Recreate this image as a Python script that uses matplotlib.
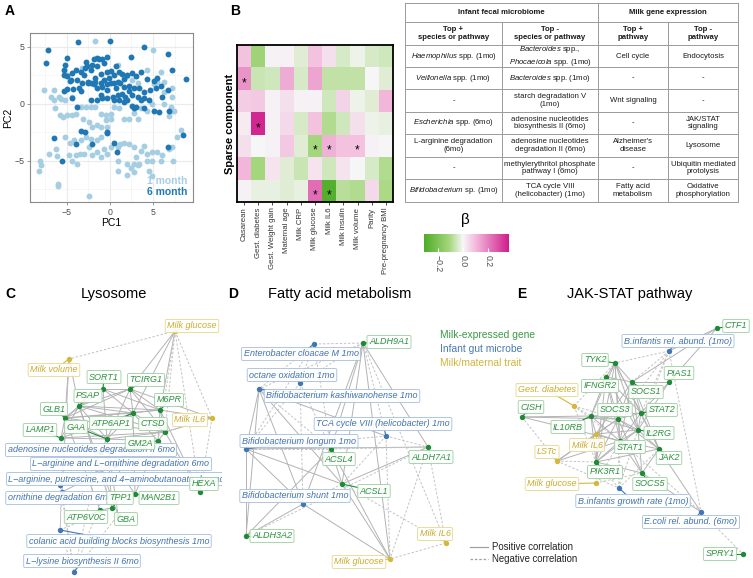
import numpy as np
import matplotlib
matplotlib.use('Agg')
import matplotlib.pyplot as plt
from matplotlib.colors import LinearSegmentedColormap, Normalize
from matplotlib.lines import Line2D

plt.rcParams['font.family'] = ['Liberation Sans', 'DejaVu Sans']
plt.rcParams['mathtext.fontset'] = 'custom'
plt.rcParams['mathtext.rm'] = 'Liberation Sans'
plt.rcParams['mathtext.it'] = 'Liberation Sans:italic'
plt.rcParams['mathtext.bf'] = 'Liberation Sans:bold'

# ---------------- data ----------------
# panel A: PCA scores
pc1_1mo = [-1.7, 5.0, -7.7, -6.4, -5.7, -5.2, -5.9, -5.0, -3.2, 4.3,
           5.5, 6.3, 7.2, 6.3, 7.2, 7.1, 7.2, 6.3, 4.9, 4.3,
           3.6, 2.8, 3.2, 2.2, 1.6, 1.0, 0.5, 0.1, -0.5, -1.1,
           -1.7, -2.2, -2.8, -3.4, -4.0, -4.4, -5.0, -5.5, -5.8, -3.1,
           -2.4, -2.1, -1.5, -1.1, -0.5, 0.1, -0.3, -1.1, -1.5, -2.2,
           -2.8, -3.4, -4.2, -4.6, -5.2, -6.3, -7.1, -8.1, -8.0, -8.3,
           -6.1, -6.0, -6.2, -4.8, -4.4, -4.0, -3.5, -3.8, -3.0, -2.1,
           -2.4, -1.5, -1.1, -0.7, -0.3, 0.1, 0.9, 1.2, 1.6, 2.2,
           2.8, 3.0, 3.6, 4.0, 4.3, 4.9, 5.5, 5.9, 4.9, 4.3,
           3.4, 2.8, 2.4, 2.0, 0.9, 0.9, 2.0, 2.8, 3.2, 4.5,
           4.9, 6.1, 6.9, 7.2, 7.8, 7.3, 8.2, 6.9, 7.4, -2.4,
           -6.9, -6.5, 0.9, -4.4, -6.5, 2.6, 3.2, 5.1, 5.9, 2.0]
pc2_1mo = [5.5, 4.7, 1.2, -0.4, 0.4, 0.3, 0.6, 2.5, 3.1, 3.0,
           1.9, 1.9, 1.4, 1.0, 0.6, -0.3, -0.6, 0.0, 0.0, -0.6,
           -0.4, -0.8, -1.3, -1.3, -1.3, -0.4, -0.3, -0.9, -1.0, -0.9,
           -0.3, -0.3, -0.3, -0.3, -0.9, -1.0, -1.0, -1.2, -1.0, -1.3,
           -1.6, -2.0, -1.9, -2.0, -1.4, -1.3, -2.0, -2.9, -3.2, -3.1,
           -2.9, -3.2, -3.2, -3.4, -2.9, -4.0, -4.4, -5.0, -5.4, -5.9,
           -7.2, -7.0, -4.6, -4.5, -5.0, -4.5, -4.4, -5.3, -4.4, -4.5,
           -3.8, -4.2, -4.7, -4.0, -4.4, -3.8, -3.8, -3.5, -3.4, -3.5,
           -3.8, -4.7, -4.1, -3.7, -4.4, -4.2, -4.2, -5.0, -5.0, -5.0,
           -5.3, -5.3, -5.6, -5.3, -5.0, -5.9, -6.2, -6.0, -5.4, -5.9,
           -6.3, -4.5, -4.0, -3.8, -2.9, -5.0, -2.3, -1.1, -0.6, -8.1,
           0.6, 0.3, 3.4, 0.6, 1.2, 2.1, 1.8, 1.7, 2.8, 2.4]
pc1_6mo = [-3.7, 0.0, -7.2, -7.4, 3.9, 6.7, 7.2, 8.8, 2.4, -5.0,
           -5.2, -5.3, -5.3, -5.0, -4.4, -4.0, -2.8, -2.7, -2.1, -1.9,
           -1.5, -1.3, -0.9, -0.3, -0.7, -1.5, -2.2, -3.0, -3.4, -3.8,
           -2.6, -1.7, -1.1, -0.3, 0.1, 0.7, 1.0, 0.5, -0.1, -0.7,
           -1.1, -1.7, -2.2, -3.2, -3.6, -4.3, -5.0, -5.3, -4.6, 1.4,
           1.6, 2.0, 2.6, 3.0, 3.6, 4.3, 5.1, 5.5, 5.9, 5.3,
           4.7, 4.0, 3.4, 2.8, 2.2, 1.6, 1.2, 0.9, 0.5, 0.1,
           -0.3, -0.9, -1.5, -1.9, 0.7, 0.9, 0.3, -0.3, -0.9, -1.5,
           -2.2, -3.8, 0.5, 1.0, 1.6, 2.0, 2.6, 2.8, 3.0, 4.0,
           5.1, 5.7, 6.9, 2.6, 3.2, 4.0, 6.1, 6.7, 2.2, -3.4,
           -2.9, -2.1, -3.9, -6.5, -5.6, -0.4, -0.4, 0.5, 0.8, 6.7,
           8.5, -2.6, -3.4, -4.4, -1.1, -0.3, 1.4, 1.8, 3.6, 4.5,
           -2.9, -4.5]
pc2_6mo = [5.4, 5.5, 4.7, 3.6, 5.0, 4.4, 3.0, 2.2, 4.1, 4.0,
           3.4, 3.0, 2.5, 2.4, 2.7, 3.0, 3.7, 3.3, 3.4, 3.9,
           4.0, 3.9, 3.9, 4.1, 3.6, 3.3, 3.0, 2.5, 2.8, 2.1,
           1.9, 2.3, 2.6, 2.8, 2.9, 3.3, 2.8, 2.5, 2.3, 2.1,
           1.8, 1.9, 1.8, 1.8, 1.4, 1.3, 1.3, 1.1, 2.0, 2.6,
           2.2, 2.5, 2.7, 2.4, 2.8, 2.2, 2.0, 2.3, 1.6, 1.4,
           1.2, 1.0, 1.4, 1.4, 1.6, 1.5, 1.8, 1.9, 1.8, 1.8,
           1.7, 1.5, 1.4, 1.7, 1.4, 0.8, 0.6, 0.5, 0.5, 0.3,
           0.3, -0.3, 0.3, 0.3, 0.2, 0.3, -0.2, -0.4, -0.3, -0.4,
           -0.6, -0.7, -0.6, 0.8, 0.6, 0.5, 0.6, 1.2, 1.1, -2.4,
           -2.5, -3.5, -3.5, -3.0, -5.0, -2.5, -2.6, -3.4, -4.2, -3.8,
           -2.7, 1.8, 1.1, 0.5, 0.8, 1.2, 0.9, 0.6, 0.3, 0.3,
           3.1, 2.1]

# panel B: sparse component loadings (beta)
traits = ['Casarean', 'Gest. diabetes', 'Gest. Weight gain', 'Maternal age', 'Milk CRP',
          'Milk glucose', 'Milk IL6', 'Milk insulin', 'Milk volume', 'Parity', 'Pre-pregnancy BMI']
beta = [[0.09, -0.12, 0.01, 0.01, -0.03, 0.09, 0.04, -0.04, -0.01, -0.04, -0.05],
        [0.17, -0.06, -0.05, 0.13, -0.04, 0.14, -0.07, -0.07, -0.07, 0.00, -0.03],
        [0.07, 0.08, 0.01, 0.04, 0.01, 0.01, -0.05, 0.06, -0.01, -0.03, 0.11],
        [0.02, 0.35, 0.01, 0.05, -0.04, 0.09, -0.09, -0.05, 0.04, -0.01, -0.02],
        [0.04, 0.00, 0.01, 0.08, -0.03, -0.11, 0.12, 0.09, 0.09, 0.01, 0.00],
        [0.11, -0.11, 0.03, -0.03, -0.06, 0.03, -0.05, 0.03, 0.00, -0.04, -0.09],
        [0.01, -0.02, -0.02, -0.03, -0.02, 0.23, -0.29, -0.08, -0.09, 0.05, -0.10]]
sig_rows = [1, 3, 4, 4, 4, 6, 6]
sig_cols = [0, 1, 5, 6, 8, 5, 6]

tab_head1 = ['Infant fecal microbiome', 'Milk gene expression']
tab_head2 = ['Top +\nspecies or pathway', 'Top -\nspecies or pathway', 'Top +\npathway', 'Top -\npathway']
tab_pos_taxa = [r'$\it{Haemophilus}$ spp. (1mo)', r'$\it{Veillonella}$ spp. (1mo)', '-',
                r'$\it{Escherichia}$ spp. (6mo)', 'L-arginine degradation\n(6mo)', '-',
                r'$\it{Bifidobacterium}$ sp. (1mo)']
tab_neg_taxa = [r'$\it{Bacteroides}$ spp.,' + '\n' + r'$\it{Phocaeicola}$ spp. (1mo)',
                r'$\it{Bacteroides}$ spp. (1mo)', 'starch degradation V\n(1mo)',
                'adenosine nucleotides\nbiosynthesis II (6mo)', 'adenosine nucleotides\ndegradation II (6mo)',
                'methylerythritol phosphate\npathway I (6mo)', 'TCA cycle VIII\n(helicobacter) (1mo)']
tab_pos_path = ['Cell cycle', '-', 'Wnt signaling', '-', "Alzheimer's\ndisease", '-', 'Fatty acid\nmetabolism']
tab_neg_path = ['Endocytosis', '-', '-', 'JAK/STAT\nsignaling', 'Lysosome',
                'Ubiquitin mediated\nprotolysis', 'Oxidative\nphosphorylation']

# panel C: lysosome network
C_keys = ['glu', 'vol', 'il6', 'SORT1', 'TCIRG1', 'PSAP', 'M6PR', 'GLB1', 'ATP6AP1', 'CTSD', 'GAA', 'LAMP1',
          'GM2A', 'ade', 'argorn', 'putr', 'HEXA', 'orn', 'TPP1', 'MAN2B1', 'ATP6V0C', 'GBA', 'colanic', 'lys']
C_labels = ['Milk glucose', 'Milk volume', 'Milk IL6', 'SORT1', 'TCIRG1', 'PSAP', 'M6PR', 'GLB1', 'ATP6AP1',
            'CTSD', 'GAA', 'LAMP1', 'GM2A', 'adenosine nucleotides degradation II 6mo',
            'L\u2212arginine and L\u2212ornithine degradation 6mo',
            'L\u2212arginine, putrescine, and 4\u2212aminobutanoate degradation I 6mo', 'HEXA',
            'ornithine degradation 6mo', 'TPP1', 'MAN2B1', 'ATP6V0C', 'GBA',
            'colanic acid building blocks biosynthesis 1mo', 'L\u2212lysine biosynthesis II 6mo']
C_kinds = ['t', 't', 't', 'g', 'g', 'g', 'g', 'g', 'g', 'g', 'g', 'g', 'g', 'm', 'm', 'm', 'g', 'm',
           'g', 'g', 'g', 'g', 'm', 'm']
C_x = [175, 69, 212, 103, 130, 79, 160, 65, 133, 165, 107, 61, 158, 100, 115, 60, 200, 62, 112, 135, 100, 118, 60, 74]
C_y = [331, 359, 418, 389, 389, 406, 410, 418, 413, 432, 439, 438, 441, 452, 465, 485, 492, 492, 508, 494, 510, 515, 530, 572]
C_lx = [192, 54, 190, 104, 146, 88, 169, 54, 111, 153, 76, 40, 140, 91, 121, 139, 204, 60, 120, 159, 86, 126, 119, 82]
C_ly = [326, 370, 420, 377, 380, 396, 400, 409, 423, 424, 427, 430, 443, 450, 464, 479, 484, 498, 498, 498, 517, 519, 541, 561]
C_edges = [('SORT1', 'PSAP', '+'), ('SORT1', 'TCIRG1', '+'), ('SORT1', 'GLB1', '+'), ('SORT1', 'M6PR', '+'),
           ('SORT1', 'ATP6AP1', '+'), ('SORT1', 'GAA', '+'), ('TCIRG1', 'PSAP', '+'), ('TCIRG1', 'M6PR', '+'),
           ('TCIRG1', 'ATP6AP1', '+'), ('TCIRG1', 'CTSD', '+'), ('TCIRG1', 'GLB1', '+'), ('TCIRG1', 'GAA', '+'),
           ('PSAP', 'GLB1', '+'), ('PSAP', 'M6PR', '+'), ('PSAP', 'ATP6AP1', '+'), ('PSAP', 'GAA', '+'),
           ('PSAP', 'LAMP1', '+'), ('PSAP', 'CTSD', '+'), ('M6PR', 'ATP6AP1', '+'), ('M6PR', 'CTSD', '+'),
           ('M6PR', 'GM2A', '+'), ('M6PR', 'GLB1', '+'), ('GLB1', 'LAMP1', '+'), ('GLB1', 'GAA', '+'),
           ('GLB1', 'ATP6AP1', '+'), ('GLB1', 'CTSD', '+'), ('ATP6AP1', 'CTSD', '+'), ('ATP6AP1', 'GAA', '+'),
           ('ATP6AP1', 'GM2A', '+'), ('GAA', 'LAMP1', '+'), ('GAA', 'CTSD', '+'), ('GAA', 'GM2A', '+'),
           ('LAMP1', 'ATP6AP1', '+'), ('LAMP1', 'CTSD', '+'), ('GM2A', 'CTSD', '+'), ('TPP1', 'GAA', '+'),
           ('TPP1', 'PSAP', '+'), ('MAN2B1', 'ATP6AP1', '+'), ('MAN2B1', 'GM2A', '+'), ('HEXA', 'M6PR', '+'),
           ('HEXA', 'CTSD', '+'), ('ATP6V0C', 'GLB1', '+'), ('ATP6V0C', 'TPP1', '+'), ('GBA', 'GAA', '+'),
           ('GBA', 'PSAP', '+'),
           ('glu', 'vol', '-'), ('glu', 'TCIRG1', '+'), ('glu', 'M6PR', '+'), ('glu', 'CTSD', '-'),
           ('glu', 'GM2A', '-'), ('glu', 'il6', '-'), ('glu', 'ATP6AP1', '+'), ('glu', 'HEXA', '-'),
           ('vol', 'GLB1', '+'), ('vol', 'orn', '+'), ('vol', 'colanic', '-'), ('vol', 'PSAP', '+'),
           ('il6', 'M6PR', '+'), ('il6', 'TCIRG1', '+'), ('il6', 'CTSD', '+'), ('il6', 'ade', '-'),
           ('il6', 'HEXA', '-'),
           ('lys', 'colanic', '-'), ('lys', 'orn', '-'), ('lys', 'ade', '-'), ('lys', 'argorn', '-'),
           ('lys', 'GBA', '-'), ('lys', 'putr', '-'), ('colanic', 'TPP1', '-'), ('colanic', 'putr', '-'),
           ('orn', 'argorn', '+'), ('putr', 'argorn', '+'), ('ade', 'argorn', '+'), ('ade', 'GAA', '+'),
           ('putr', 'GM2A', '-'), ('orn', 'LAMP1', '-'), ('argorn', 'MAN2B1', '+')]

# panel D: fatty acid metabolism network
D_keys = ['ALDH9A1', 'entero', 'octane', 'kashi', 'tca', 'longum', 'ACSL4', 'ALDH7A1', 'ACSL1', 'shunt',
          'ALDH3A2', 'il6', 'glu']
D_labels = ['ALDH9A1', 'Enterobacter cloacae M 1mo', 'octane oxidation 1mo', 'Bifidobacterium kashiwanohense 1mo',
            'TCA cycle VIII (helicobacter) 1mo', 'Bifidobacterium longum 1mo', 'ACSL4', 'ALDH7A1', 'ACSL1',
            'Bifidobacterium shunt 1mo', 'ALDH3A2', 'Milk IL6', 'Milk glucose']
D_kinds = ['g', 'm', 'm', 'm', 'm', 'm', 'g', 'g', 'g', 'm', 'g', 't', 't']
D_x = [363, 314, 300, 259, 386, 246, 331, 428, 342, 303, 246, 446, 390]
D_y = [343, 344, 383, 389, 436, 449, 449, 447, 484, 504, 536, 543, 559]
D_lx = [389, 301, 292, 342, 383, 299, 339, 431, 374, 295, 272, 435, 359]
D_ly = [342, 354, 375, 396, 424, 441, 459, 457, 491, 496, 536, 534, 562]
D_edges = [('ALDH9A1', 'entero', '-'), ('ALDH9A1', 'octane', '-'), ('ALDH9A1', 'ACSL4', '+'),
           ('ALDH9A1', 'ACSL1', '+'), ('ALDH9A1', 'ALDH7A1', '+'), ('ALDH9A1', 'il6', '-'),
           ('ALDH9A1', 'glu', '+'), ('ALDH9A1', 'kashi', '-'), ('ALDH9A1', 'shunt', '+'), ('ALDH9A1', 'tca', '-'),
           ('entero', 'kashi', '-'), ('entero', 'octane', '-'), ('entero', 'longum', '-'), ('entero', 'ACSL4', '-'),
           ('octane', 'longum', '-'), ('octane', 'ACSL4', '-'), ('octane', 'shunt', '-'),
           ('kashi', 'longum', '+'), ('kashi', 'ALDH3A2', '+'), ('kashi', 'shunt', '+'), ('kashi', 'ACSL1', '+'),
           ('kashi', 'tca', '+'), ('kashi', 'ACSL4', '-'),
           ('tca', 'ACSL1', '-'), ('tca', 'glu', '-'), ('tca', 'longum', '-'), ('tca', 'ALDH7A1', '-'),
           ('longum', 'ALDH7A1', '+'), ('longum', 'ACSL1', '+'), ('longum', 'ALDH3A2', '+'),
           ('longum', 'shunt', '+'), ('longum', 'ACSL4', '-'),
           ('ACSL4', 'ACSL1', '+'), ('ACSL4', 'glu', '+'), ('ACSL4', 'ALDH3A2', '+'), ('ACSL4', 'ALDH7A1', '-'),
           ('ALDH7A1', 'ACSL1', '+'), ('ALDH7A1', 'il6', '-'), ('ALDH7A1', 'glu', '-'),
           ('ACSL1', 'glu', '+'), ('ACSL1', 'shunt', '-'), ('ACSL1', 'il6', '-'),
           ('shunt', 'ALDH3A2', '+'), ('shunt', 'glu', '+'), ('il6', 'glu', '-'), ('ALDH3A2', 'ALDH7A1', '-')]

# panel E: JAK-STAT network
E_keys = ['CTF1', 'binfra', 'TYK2', 'PIAS1', 'IFNGR2', 'SOCS1', 'gd', 'CISH', 'SOCS3', 'STAT2', 'IL10RB',
          'il6', 'IL2RG', 'STAT1', 'lstc', 'JAK2', 'PIK3R1', 'SOCS5', 'glu', 'binfgr', 'ecoli', 'SPRY1']
E_labels = ['CTF1', 'B.infantis rel. abund. (1mo)', 'TYK2', 'PIAS1', 'IFNGR2', 'SOCS1', 'Gest. diabetes', 'CISH',
            'SOCS3', 'STAT2', 'IL10RB', 'Milk IL6', 'IL2RG', 'STAT1', 'LSTc', 'JAK2', 'PIK3R1', 'SOCS5',
            'Milk glucose', 'B.infantis growth rate (1mo)', 'E.coli rel. abund. (6mo)', 'SPRY1']
E_kinds = ['g', 'm', 'g', 'g', 'g', 'g', 't', 'g', 'g', 'g', 'g', 't', 'g', 'g', 't', 'g', 'g', 'g', 't', 'm', 'm', 'g']
E_x = [717, 669, 615, 669, 606, 632, 574, 522, 618, 641, 591, 596, 638, 620, 557, 659, 596, 642, 596, 619, 701, 743]
E_y = [328, 351, 363, 382, 377, 382, 406, 417, 419, 413, 416, 434, 430, 441, 461, 449, 462, 473, 483, 488, 512, 554]
E_lx = [736, 678, 595, 679, 600, 646, 547, 531, 615, 662, 568, 587, 659, 630, 547, 669, 605, 650, 552, 633, 691, 720]
E_ly = [326, 341, 360, 373, 386, 392, 390, 407, 410, 410, 427, 445, 433, 447, 452, 458, 472, 484, 484, 501, 522, 554]
E_edges = [('TYK2', 'SOCS1', '+'), ('TYK2', 'IFNGR2', '+'), ('TYK2', 'SOCS3', '+'), ('TYK2', 'STAT2', '+'),
           ('TYK2', 'IL10RB', '+'), ('TYK2', 'STAT1', '+'), ('TYK2', 'IL2RG', '+'), ('TYK2', 'JAK2', '+'),
           ('TYK2', 'PIK3R1', '+'), ('IFNGR2', 'SOCS1', '+'), ('IFNGR2', 'SOCS3', '+'), ('IFNGR2', 'IL10RB', '+'),
           ('IFNGR2', 'STAT1', '+'), ('IFNGR2', 'STAT2', '+'), ('IFNGR2', 'PIK3R1', '+'), ('IFNGR2', 'IL2RG', '+'),
           ('SOCS1', 'SOCS3', '+'), ('SOCS1', 'STAT2', '+'), ('SOCS1', 'STAT1', '+'), ('SOCS1', 'IL2RG', '+'),
           ('SOCS1', 'PIAS1', '+'), ('SOCS1', 'JAK2', '+'), ('PIAS1', 'STAT2', '+'), ('PIAS1', 'CTF1', '+'),
           ('PIAS1', 'IL2RG', '+'), ('SOCS3', 'STAT2', '+'), ('SOCS3', 'IL10RB', '+'), ('SOCS3', 'STAT1', '+'),
           ('SOCS3', 'IL2RG', '+'), ('SOCS3', 'PIK3R1', '+'), ('SOCS3', 'JAK2', '+'), ('SOCS3', 'SOCS5', '+'),
           ('STAT2', 'STAT1', '+'), ('STAT2', 'IL2RG', '+'), ('STAT2', 'JAK2', '+'), ('STAT2', 'IL10RB', '+'),
           ('IL10RB', 'STAT1', '+'), ('IL10RB', 'PIK3R1', '+'), ('IL10RB', 'IL2RG', '+'), ('IL10RB', 'CISH', '+'),
           ('IL2RG', 'STAT1', '+'), ('IL2RG', 'JAK2', '+'), ('IL2RG', 'PIK3R1', '+'), ('IL2RG', 'SOCS5', '+'),
           ('STAT1', 'JAK2', '+'), ('STAT1', 'PIK3R1', '+'), ('STAT1', 'SOCS5', '+'), ('JAK2', 'PIK3R1', '+'),
           ('JAK2', 'SOCS5', '+'), ('PIK3R1', 'SOCS5', '+'), ('CISH', 'SOCS3', '+'), ('CISH', 'lstc', '-'),
           ('CISH', 'STAT1', '+'),
           ('gd', 'SOCS3', '-'), ('gd', 'IL10RB', '-'), ('gd', 'STAT1', '-'), ('gd', 'TYK2', '-'), ('gd', 'PIK3R1', '-'),
           ('il6', 'SOCS3', '+'), ('il6', 'STAT1', '+'), ('il6', 'IL10RB', '+'), ('il6', 'PIK3R1', '+'),
           ('il6', 'SOCS1', '+'), ('il6', 'lstc', '+'), ('il6', 'IL2RG', '+'),
           ('lstc', 'SOCS3', '+'), ('lstc', 'STAT1', '+'), ('lstc', 'binfgr', '-'), ('lstc', 'PIK3R1', '-'),
           ('glu', 'PIK3R1', '-'), ('glu', 'STAT1', '-'), ('glu', 'SOCS5', '-'),
           ('binfra', 'SOCS1', '-'), ('binfra', 'STAT2', '-'), ('binfra', 'CTF1', '+'), ('binfra', 'SOCS3', '-'),
           ('binfra', 'IL2RG', '-'), ('binfra', 'ecoli', '-'), ('binfra', 'TYK2', '-'),
           ('binfgr', 'STAT1', '-'), ('binfgr', 'SOCS3', '-'), ('binfgr', 'PIK3R1', '-'), ('binfgr', 'IL2RG', '-'),
           ('binfgr', 'JAK2', '-'), ('ecoli', 'JAK2', '+'), ('ecoli', 'SPRY1', '-'), ('ecoli', 'SOCS5', '+'),
           ('ecoli', 'STAT1', '-'), ('CTF1', 'SOCS1', '+')]

# ---------------- figure ----------------
W, H = 753, 578
fig = plt.figure(figsize=(W / 100, H / 100), dpi=100)


def px_axes(x0, y0, x1, y1):
    return fig.add_axes([x0 / W, 1 - y1 / H, (x1 - x0) / W, (y1 - y0) / H])


def fig_text(x, y, s, **kw):
    return fig.text(x / W, 1 - y / H, s, **kw)


# panel letters and titles
for letter, lx, ly in [('A', 5, 11), ('B', 230, 11), ('C', 5, 294), ('D', 228, 294), ('E', 517, 294)]:
    fig_text(lx, ly, letter, fontsize=10, fontweight='bold', va='center')
fig_text(114, 294, 'Lysosome', fontsize=10.5, ha='center', va='center')
fig_text(340, 294, 'Fatty acid metabolism', fontsize=10.5, ha='center', va='center')
fig_text(630, 294, 'JAK-STAT pathway', fontsize=10.5, ha='center', va='center')

# ----- A: PCA -----
axA = px_axes(30, 33, 193, 202)
axA.set_xlim(-9.3, 9.65)
axA.set_ylim(-8.6, 6.2)
axA.set_xticks([-5, 0, 5])
axA.set_yticks([-5, 0, 5])
axA.set_xticks([-7.5, -2.5, 2.5, 7.5], minor=True)
axA.set_yticks([-7.5, -2.5, 2.5], minor=True)
axA.set_xticklabels(['\u22125', '0', '5'])
axA.set_yticklabels(['\u22125', '0', '5'])
axA.grid(which='major', color='#ebebeb', lw=0.8)
axA.grid(which='minor', color='#f3f3f3', lw=0.5)
axA.set_axisbelow(True)
axA.scatter(pc1_1mo, pc2_1mo, s=18, color='#a6cee3', lw=0, zorder=2)
axA.scatter(pc1_6mo, pc2_6mo, s=18, color='#1f78b4', lw=0, zorder=3)
for sp in axA.spines.values():
    sp.set_color('#8a8a8a')
    sp.set_linewidth(0.8)
axA.tick_params(which='major', labelsize=6.3, labelcolor='#4d4d4d', color='#8a8a8a', length=2.5, width=0.6, pad=1.5)
axA.tick_params(which='minor', length=0)
axA.set_xlabel('PC1', fontsize=7.5, labelpad=1)
axA.set_ylabel('PC2', fontsize=7.5, labelpad=1)
axA.text(0.965, 0.125, '1 month', transform=axA.transAxes, ha='right', va='center',
         color='#a6cee3', fontsize=7.5, fontweight='bold', zorder=5)
axA.text(0.965, 0.06, '6 month', transform=axA.transAxes, ha='right', va='center',
         color='#1f78b4', fontsize=7.5, fontweight='bold', zorder=5)

# ----- B: heatmap -----
cmap = LinearSegmentedColormap.from_list('piyg', [(0, '#4dac26'), (0.3, '#a6d77f'), (0.456, '#f7f7f7'),
                                                  (0.62, '#f1b6da'), (1, '#d01c8b')])
norm = Normalize(vmin=-0.31, vmax=0.37)
axB = px_axes(237, 45, 393, 202)
im = axB.imshow(np.array(beta), cmap=cmap, norm=norm, aspect='auto', interpolation='nearest')
for r, c in zip(sig_rows, sig_cols):
    axB.text(c, r + 0.2, '*', ha='center', va='center', fontsize=8.5, color='black')
axB.set_xticks(range(len(traits)))
axB.set_xticklabels(traits, rotation=90, fontsize=5.6, color='#333333')
axB.set_yticks([])
axB.tick_params(axis='x', length=2, width=0.5, pad=2)
for sp in axB.spines.values():
    sp.set_linewidth(1.3)
fig_text(230, 124, 'Sparse component', rotation=90, fontsize=8, fontweight='bold', ha='center', va='center')

cax = px_axes(424, 234, 509, 252)
cb = fig.colorbar(im, cax=cax, orientation='horizontal', ticks=[-0.2, 0, 0.2])
cb.outline.set_visible(False)
cax.set_xticklabels(['\u22120.2', '0.0', '0.2'], rotation=270, fontsize=6.3, color='#4d4d4d')
cax.tick_params(length=3, color='white', width=0.8, direction='in', pad=2)
fig_text(465, 220, '\u03b2', fontsize=11, ha='center', va='center')

# ----- B: table -----
axT = px_axes(405, 3, 738, 202)
axT.set_xlim(405, 738)
axT.set_ylim(202, 3)
axT.axis('off')
col_edges = [405, 502, 598, 668, 738]
row_edges = [3, 22, 45, 67, 89, 112, 134, 157, 179, 202]
lc = dict(color='#9a9a9a', lw=0.7, clip_on=False)
for yv in row_edges:
    axT.plot([405, 738], [yv, yv], **lc)
for xv in [405, 598, 738]:
    axT.plot([xv, xv], [3, 202], **lc)
for xv in [502, 668]:
    axT.plot([xv, xv], [22, 202], **lc)
ccx = [(col_edges[i] + col_edges[i + 1]) / 2 for i in range(4)]
rcy = [(row_edges[i] + row_edges[i + 1]) / 2 for i in range(9)]
tkw = dict(ha='center', va='center', fontsize=5.6, color='#1a1a1a', linespacing=1.15)
axT.text((405 + 598) / 2, rcy[0], tab_head1[0], fontweight='bold', **tkw)
axT.text((598 + 738) / 2, rcy[0], tab_head1[1], fontweight='bold', **tkw)
for i, h in enumerate(tab_head2):
    axT.text(ccx[i], rcy[1], h, fontweight='bold', **tkw)
for r in range(7):
    for i, col in enumerate([tab_pos_taxa, tab_neg_taxa, tab_pos_path, tab_neg_path]):
        axT.text(ccx[i], rcy[r + 2], col[r], **tkw)

# ----- C/D/E: networks -----
dot_col = {'g': '#1f8a36', 'm': '#3f76b4', 't': '#d4b83c'}
txt_col = {'g': '#2f9140', 'm': '#4273ad', 't': '#c9ad30'}
box_col = {'g': '#9fd1a4', 'm': '#a8c1de', 't': '#e8d991'}
kind_rank = {'m': 0, 'g': 1, 't': 2}


def draw_net(ax, keys, labels, kinds, nx, ny, lx, ly, edges):
    pos = {k: (x, y) for k, x, y in zip(keys, nx, ny)}
    for a, b, s in edges:
        (x0, y0), (x1, y1) = pos[a], pos[b]
        if s == '+':
            ax.plot([x0, x1], [y0, y1], color='#b3b3b3', lw=0.7, zorder=1)
        else:
            ax.plot([x0, x1], [y0, y1], color='#c4c4c4', lw=0.7, ls=(0, (2.5, 1.8)), zorder=1)
    order = sorted(range(len(keys)), key=lambda i: kind_rank[kinds[i]])
    for n, i in enumerate(order):
        k = kinds[i]
        if np.hypot(lx[i] - nx[i], ly[i] - ny[i]) > 9:
            ax.plot([nx[i], lx[i]], [ny[i], ly[i]], color=dot_col[k], lw=0.8, zorder=2)
        ax.scatter([nx[i]], [ny[i]], s=15, color=dot_col[k], lw=0, zorder=3)
        t = ax.text(lx[i], ly[i], labels[i], ha='center', va='center', fontsize=6.5, style='italic',
                    color=txt_col[k], zorder=4 + n * 0.01,
                    bbox=dict(boxstyle='round,pad=0.22,rounding_size=0.15', fc='white', ec=box_col[k],
                              lw=0.7, alpha=0.9))
        t.set_clip_box(ax.bbox)
        t.set_clip_on(True)


for (x0, x1), data in [((0, 222), (C_keys, C_labels, C_kinds, C_x, C_y, C_lx, C_ly, C_edges)),
                       ((225, 470), (D_keys, D_labels, D_kinds, D_x, D_y, D_lx, D_ly, D_edges)),
                       ((480, 753), (E_keys, E_labels, E_kinds, E_x, E_y, E_lx, E_ly, E_edges))]:
    ax = px_axes(x0, 305, x1, 578)
    ax.set_xlim(x0, x1)
    ax.set_ylim(578, 305)
    ax.axis('off')
    draw_net(ax, *data)

# network legend
fig_text(440, 335, 'Milk-expressed gene', color='#3a9a48', fontsize=7.4, va='center')
fig_text(440, 349, 'Infant gut microbe', color='#4a7bb5', fontsize=7.4, va='center')
fig_text(440, 363, 'Milk/maternal trait', color='#d1b53e', fontsize=7.4, va='center')
fig.add_artist(Line2D([470 / W, 488 / W], [1 - 547 / H] * 2, color='#a0a0a0', lw=0.9))
fig.add_artist(Line2D([470 / W, 488 / W], [1 - 559 / H] * 2, color='#a0a0a0', lw=0.9, ls=(0, (2, 1.5))))
fig_text(492, 547, 'Positive correlation', fontsize=6.9, va='center', color='#222222')
fig_text(492, 559, 'Negative correlation', fontsize=6.9, va='center', color='#222222')

fig.savefig('out.png', dpi=100)
